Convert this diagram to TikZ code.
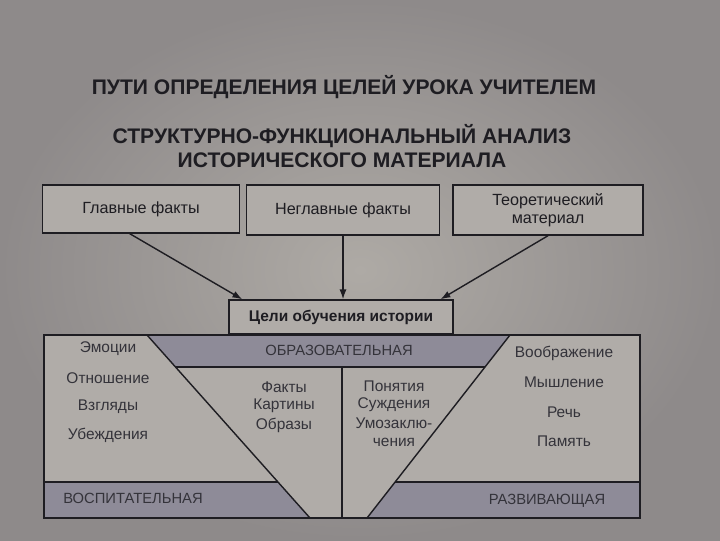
\documentclass[tikz,border=0pt]{standalone}
\usepackage{fontspec}
\setmainfont{Liberation Sans}
\usetikzlibrary{arrows.meta,positioning}
\definecolor{photobg}{RGB}{174,170,165}
\definecolor{photodark}{RGB}{142,138,138}
\definecolor{boxbg}{RGB}{176,172,168}
\definecolor{bandbg}{RGB}{142,139,152}
\definecolor{ink}{RGB}{30,29,34}
\definecolor{softink}{RGB}{52,51,58}

\begin{document}
\begin{tikzpicture}[x=0.025cm,y=-0.025cm,
  frame/.style={draw=ink,line width=1pt},
  srcbox/.style={frame,fill=boxbg,inner sep=0pt,align=center,text=ink,
    font=\fontsize{11.5}{13}\selectfont},
  heading/.style={font=\bfseries\fontsize{15}{17}\selectfont,text=ink,align=center},
  word/.style={font=\fontsize{11}{12}\selectfont,text=softink,inner sep=0pt},
  caps/.style={font=\fontsize{10.5}{12}\selectfont,text=softink,inner sep=0pt},
  flow/.style={-{Latex[length=7pt,width=5pt]},line width=1pt,draw=ink}]
 \useasboundingbox (0,0) rectangle (720,540);
 \shade[inner color=photobg,outer color=photodark] (0,0) rectangle (720,540);
 % headings
 \node[heading] (head) at (344,87) {ПУТИ ОПРЕДЕЛЕНИЯ ЦЕЛЕЙ УРОКА УЧИТЕЛЕМ};
 \node[heading] (sub) at (342,146) {СТРУКТУРНО-ФУНКЦИОНАЛЬНЫЙ АНАЛИЗ\\ИСТОРИЧЕСКОГО МАТЕРИАЛА};
 % sources
 \node[srcbox,minimum width=4.93cm,minimum height=1.2cm] (main) at (141,209) {Главные факты};
 \node[srcbox,minimum width=4.83cm,minimum height=1.25cm] (minor) at (343,210) {Неглавные факты};
 \node[srcbox,minimum width=4.75cm,minimum height=1.25cm] (theory) at (548,210) {Теоретический\\материал};
 \node[srcbox,minimum width=5.6cm,minimum height=0.85cm,font=\bfseries\fontsize{11}{13}\selectfont]
   (goals) at (341,317) {Цели обучения истории};
 \draw[flow] ([xshift=-0.28cm]main.south) -- ([xshift=0.35cm]goals.north west);
 \draw[flow] (minor.south) -- (minor.south |- goals.north);
 \draw[flow] (theory.south) -- ([xshift=-0.33cm]goals.north east);
 % lower field
 \fill[boxbg] (44,335) rectangle (640,518);
 \fill[bandbg] (147,335) -- (510,335) -- (485,367) -- (175.5,367) -- cycle;
 \fill[bandbg] (44,482) -- (278,482) -- (310,518) -- (44,518) -- cycle;
 \fill[bandbg] (395,482) -- (640,482) -- (640,518) -- (367,518) -- cycle;
 \draw[frame] (44,335) rectangle (640,518);
 \draw[frame] (147,335) -- (310,518) (510,335) -- (367,518);
 \draw[frame] (175.5,367) -- (485,367) (342,367) -- (342,518);
 \draw[frame] (44,482) -- (278,482) (395,482) -- (640,482);
 \node[caps] (edu) at (339,350) {ОБРАЗОВАТЕЛЬНАЯ};
 \node[caps] (upbr) at (133,498) {ВОСПИТАТЕЛЬНАЯ};
 \node[caps] (dev) at (547,501) {РАЗВИВАЮЩАЯ};
 \foreach \t/\y [count=\i] in {Эмоции/349,Отношение/378,Взгляды/407,Убеждения/435}
   {\node[word] (feel\i) at (108,\y) {\t};}
 \foreach \t/\y [count=\i] in {Факты/387,Картины/406,Образы/425}
   {\node[word] (fact\i) at (284,\y) {\t};}
 \foreach \t/\y [count=\i] in {Понятия/386,Суждения/405,Умозаклю-/423,чения/442}
   {\node[word] (idea\i) at (394,\y) {\t};}
 \foreach \t/\y [count=\i] in {Воображение/353,Мышление/382,Речь/412,Память/441}
   {\node[word] (mind\i) at (564,\y) {\t};}
\end{tikzpicture}
\end{document}
